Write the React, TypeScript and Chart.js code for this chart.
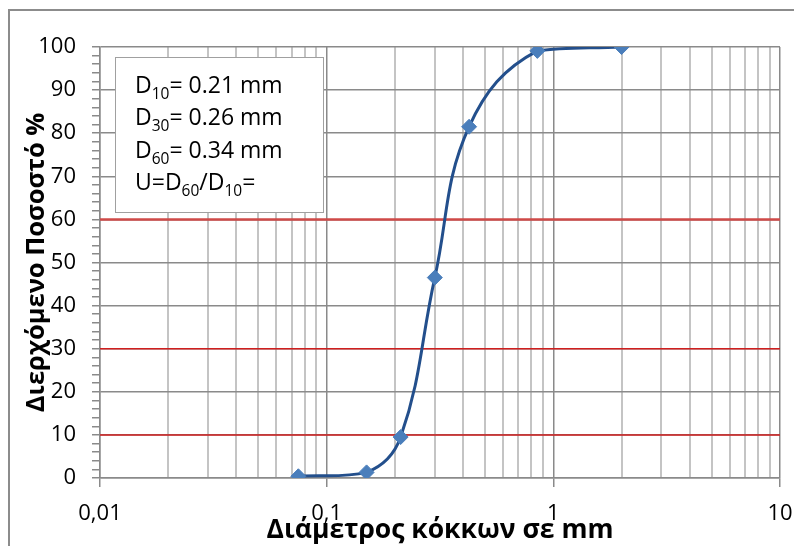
import React, { useEffect, useRef } from "react";
import { Chart, registerables } from "chart.js";

Chart.register(...registerables);

// Sieve analysis: grain diameter (mm) vs. cumulative percentage passing
const sieveSizes = [0.075, 0.15, 0.212, 0.3, 0.425, 0.85, 2];
const passingPercent = [0.4, 1.3, 9.5, 46.5, 81.5, 99.1, 100];

// Horizontal guide lines used to read D10, D30 and D60
const guideLevels = [10, 30, 60];
const guideColors = ["#d01f1f", "#d01f1f", "#cf4a48"];
const guideWidths = [1.5, 1.5, 2.5];

// Logarithmic x axis: every 1..9 step of each decade
const xTickValues = [
  0.01, 0.02, 0.03, 0.04, 0.05, 0.06, 0.07, 0.08, 0.09,
  0.1, 0.2, 0.3, 0.4, 0.5, 0.6, 0.7, 0.8, 0.9,
  1, 2, 3, 4, 5, 6, 7, 8, 9,
  10,
];
const xMajorValues = [0.01, 0.1, 1, 10];
const xMajorLabels = ["0,01", "0,1", "1", "10"];

const yMin = 0;
const yMax = 100;
const yMinorStep = 2;
const yLabelStep = 10;

const xTitle = "Διάμετρος κόκκων σε mm";
const yTitle = "Διερχόμενο Ποσοστό %";

// Text box lines, split into normal / subscript runs
type Run = { text: string; sub?: boolean };
const infoLines: Run[][] = [
  [{ text: "D" }, { text: "10", sub: true }, { text: "= 0.21 mm" }],
  [{ text: "D" }, { text: "30", sub: true }, { text: "= 0.26 mm" }],
  [{ text: "D" }, { text: "60", sub: true }, { text: "= 0.34 mm" }],
  [
    { text: "U=D" },
    { text: "60", sub: true },
    { text: "/D" },
    { text: "10", sub: true },
    { text: "=" },
  ],
];

const FONT = "'Open Sans', 'Noto Sans', sans-serif";
const GRID_DARK = "#8a8a8a";
const GRID_LIGHT = "#c4c4c4";

const isMajorX = (v: number) =>
  xMajorValues.some((m) => Math.abs(m - v) < m * 1e-6);

const framePlugin = {
  id: "frameAndNotes",
  beforeDraw(chart: any) {
    const { ctx, width, height } = chart;
    ctx.save();
    ctx.fillStyle = "#ffffff";
    ctx.fillRect(0, 0, width, height);
    ctx.strokeStyle = "#8c8c8c";
    ctx.lineWidth = 2;
    ctx.strokeRect(9, 10, width + 20, height + 20);
    ctx.restore();
  },
  afterDatasetsDraw(chart: any) {
    const { ctx, chartArea } = chart;
    const bx = chartArea.left + 15.5;
    const by = chartArea.top + 10.5;
    const bw = 208;
    const bh = 155;
    ctx.save();
    ctx.fillStyle = "#ffffff";
    ctx.fillRect(bx, by, bw, bh);
    ctx.strokeStyle = "#a0a0a0";
    ctx.lineWidth = 1;
    ctx.strokeRect(bx, by, bw, bh);

    ctx.fillStyle = "#000000";
    ctx.textBaseline = "alphabetic";
    ctx.textAlign = "left";
    const mainFont = `23px ${FONT}`;
    const subFont = `15.5px ${FONT}`;
    infoLines.forEach((line, i) => {
      let x = bx + 19.5;
      const y = by + 35 + i * 32.5;
      line.forEach((run) => {
        ctx.font = run.sub ? subFont : mainFont;
        ctx.fillText(run.text, x, run.sub ? y + 6 : y);
        x += ctx.measureText(run.text).width;
      });
    });
    ctx.restore();
  },
};

export default function App() {
  const canvasRef = useRef<HTMLCanvasElement | null>(null);

  useEffect(() => {
    const canvas = canvasRef.current;
    if (!canvas) return;

    const curve = sieveSizes.map((x, i) => ({ x, y: passingPercent[i] }));
    const guides = guideLevels.map((level, i) => ({
      label: `D${level}`,
      data: [
        { x: xTickValues[0], y: level },
        { x: xTickValues[xTickValues.length - 1], y: level },
      ],
      borderColor: guideColors[i],
      borderWidth: guideWidths[i],
      pointRadius: 0,
      tension: 0,
    }));

    const chart = new Chart(canvas, {
      type: "line",
      data: {
        datasets: [
          {
            label: "Κοκκομετρική καμπύλη",
            data: curve,
            borderColor: "#234f8c",
            borderWidth: 3,
            tension: 0.4,
            pointStyle: "rectRot",
            pointRadius: 7.5,
            pointBackgroundColor: "#4a7ebb",
            pointBorderColor: "#4a7ebb",
            pointBorderWidth: 1,
          },
          ...guides,
        ],
      },
      plugins: [framePlugin],
      options: {
        responsive: false,
        animation: false,
        events: [],
        layout: { padding: { left: 0, top: 47, right: 14, bottom: 0 } },
        plugins: {
          legend: { display: false },
          tooltip: { enabled: false },
        },
        scales: {
          x: {
            type: "logarithmic",
            min: xTickValues[0],
            max: xTickValues[xTickValues.length - 1],
            afterBuildTicks: (scale: any) => {
              scale.ticks = xTickValues.map((v) => ({ value: v, major: isMajorX(v) }));
            },
            afterFit: (scale: any) => {
              scale.height = 68;
              scale.paddingLeft = 0;
              scale.paddingRight = 0;
            },
            ticks: {
              autoSkip: false,
              maxRotation: 0,
              minRotation: 0,
              padding: 14,
              color: "#000000",
              font: { family: FONT, size: 22 },
              callback: (value: any) => {
                const idx = xMajorValues.findIndex(
                  (m) => Math.abs(m - Number(value)) < m * 1e-6
                );
                return idx >= 0 ? xMajorLabels[idx] : "";
              },
            },
            grid: {
              color: (c: any) => (c.tick && isMajorX(c.tick.value) ? GRID_DARK : GRID_LIGHT),
              lineWidth: (c: any) => (c.tick && isMajorX(c.tick.value) ? 1.5 : 2),
              tickColor: (c: any) =>
                c.tick && isMajorX(c.tick.value) ? GRID_DARK : "rgba(0,0,0,0)",
              tickLength: 9,
            },
            border: { display: true, color: GRID_DARK, width: 1.5 },
            title: {
              display: true,
              text: xTitle,
              color: "#000000",
              font: { family: FONT, size: 26.5, weight: "bold" },
              padding: { top: 0, bottom: 0 },
            },
          },
          y: {
            type: "linear",
            min: yMin,
            max: yMax,
            afterFit: (scale: any) => {
              scale.width = 100;
            },
            ticks: {
              stepSize: yMinorStep,
              autoSkip: false,
              padding: 16,
              color: "#000000",
              font: { family: FONT, size: 22 },
              callback: (value: any) =>
                Number(value) % yLabelStep === 0 ? String(value) : "",
            },
            grid: {
              color: (c: any) =>
                c.tick && c.tick.value % yLabelStep === 0 ? GRID_DARK : "rgba(0,0,0,0)",
              lineWidth: 1.5,
              tickColor: GRID_DARK,
              tickLength: 8,
            },
            border: { display: true, color: GRID_DARK, width: 1.5 },
            title: {
              display: true,
              text: yTitle,
              color: "#000000",
              font: { family: FONT, size: 25.5, weight: "bold" },
              padding: { top: 21, bottom: 0 },
            },
          },
        },
      },
    });

    return () => chart.destroy();
  }, []);

  return (
    <div style={{ position: "fixed", left: 0, top: 0, width: 794, height: 546 }}>
      <canvas ref={canvasRef} width={794} height={546} style={{ display: "block" }} />
    </div>
  );
}
